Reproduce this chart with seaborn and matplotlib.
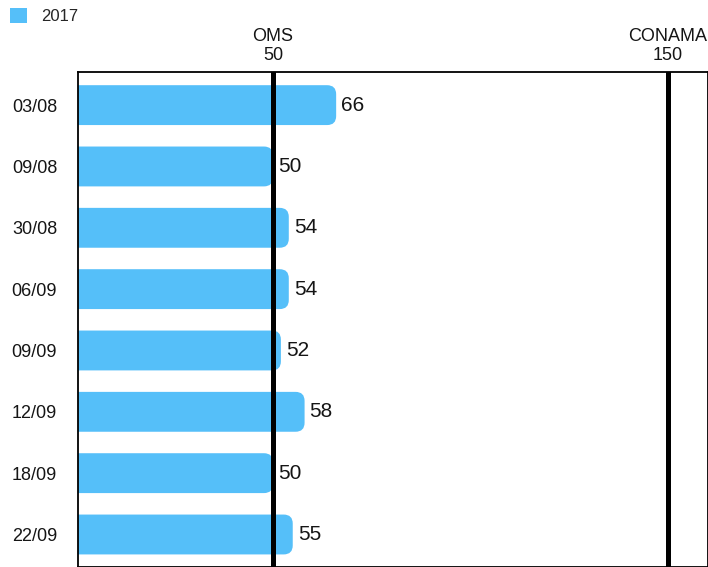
import matplotlib
matplotlib.use("Agg")
import matplotlib.pyplot as plt
from matplotlib.patches import FancyBboxPatch, Patch
import seaborn as sns
import pandas as pd

dates = ["03/08", "09/08", "30/08", "06/09", "09/09", "12/09", "18/09", "22/09"]
values = [66, 50, 54, 54, 52, 58, 50, 55]
limit_names = ["OMS", "CONAMA"]
limit_values = [50, 150]
series_name = "2017"

BLUE = "#55BFF9"
INK = "#151515"

sns.set_theme(style="white")
plt.rcParams["font.family"] = ["Liberation Sans", "DejaVu Sans"]

df = pd.DataFrame({"fecha": dates, "valor": values})

fig = plt.figure(figsize=(7.08, 5.67), dpi=100)
ax = fig.add_axes([78 / 708, 0.0, 630 / 708, 1 - 72 / 567])

sns.barplot(data=df, y="fecha", x="valor", orient="h", color=BLUE,
            saturation=1, width=0.65, ax=ax)

xmin, xmax = 0.6, 160.2
ax.set_xlim(xmin, xmax)
ax.set_ylim(len(dates) - 0.47, -0.54)

# replace plain bars with bars rounded at the right end
fig.canvas.draw()
bbox = ax.get_window_extent()
px_x = bbox.width / (xmax - xmin)
px_y = bbox.height / (len(dates) - 0.47 + 0.54)
aspect = px_x / px_y
radius = 9 / px_x
for p in list(ax.patches):
    x0, y0 = p.get_x(), p.get_y()
    w, h = p.get_width(), p.get_height()
    p.remove()
    rb = FancyBboxPatch((x0 - 10, y0), w + 10, h,
                        boxstyle=f"round,pad=0,rounding_size={radius}",
                        mutation_aspect=aspect, facecolor=BLUE,
                        edgecolor="none", zorder=2)
    ax.add_patch(rb)

# value labels at the bar ends
for i, v in enumerate(values):
    ax.text(v + 5 / px_x, i, str(v), va="center", ha="left",
            fontsize=15, color=INK, zorder=4)

# limit lines
for lv in limit_values:
    ax.axvline(lv, color="black", lw=3.6, zorder=3)

ax.set_xticks(limit_values)
ax.set_xticklabels([f"{n}\n{v}" for n, v in zip(limit_names, limit_values)],
                   fontsize=13, color=INK, linespacing=1.1)
ax.xaxis.tick_top()
ax.tick_params(axis="x", length=0, pad=6)
ax.tick_params(axis="y", length=0, pad=15, labelsize=13, labelcolor=INK)
ax.set_xlabel("")
ax.set_ylabel("")

for s in ax.spines.values():
    s.set_color("black")
    s.set_linewidth(1.3)

handle = Patch(facecolor=BLUE, edgecolor="none")
fig.legend([handle], [series_name], loc="upper left",
           bbox_to_anchor=(10 / 708, 1 - 8 / 567), frameon=False, fontsize=12,
           borderpad=0, borderaxespad=0,
           handlelength=1.0, handleheight=1.05, handletextpad=0.85)

fig.savefig("out.png", dpi=100)
